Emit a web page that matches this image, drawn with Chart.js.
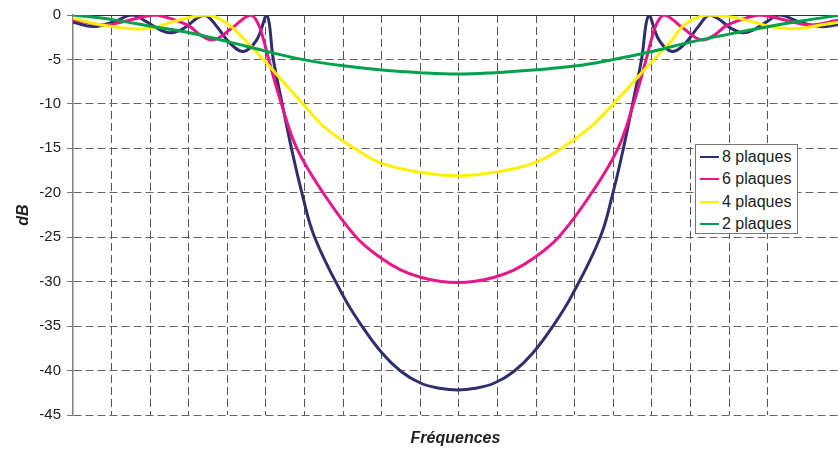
<!DOCTYPE html>
<html>
<head>
<meta charset="utf-8">
<script src="https://cdn.jsdelivr.net/npm/chart.js@4/dist/chart.umd.min.js"></script>
<style>
  body { margin: 0; background: #fff; }
  #wrap { position: relative; width: 838px; height: 454px; }
  #chartLegend {
    position: absolute; left: 695px; top: 144px; width: 103px; height: 90px;
    box-sizing: border-box; padding-top: 1px;
    border: 1px solid #777; background: #fff;
    font: 16px "Liberation Sans", Arial, sans-serif; color: #222;
  }
  .item { display: flex; align-items: center; height: 22.3px; white-space: nowrap; }
  .swatch { width: 19px; height: 2px; margin: 0 3px 0 4px; }
</style>
</head>
<body>
<div id="wrap">
  <canvas id="chart" width="838" height="454"></canvas>
  <div id="chartLegend"></div>
</div>
<script>
// x is in grid units (one dashed vertical line per unit), y in dB
const labels = ['8 plaques', '6 plaques', '4 plaques', '2 plaques'];
const colors = ['#2f2f6b', '#e8168b', '#fff000', '#00a14b'];
const yTicks = [0, -5, -10, -15, -20, -25, -30, -35, -40, -45];

const x8 = [0, 0.53, 1.07, 1.54, 1.9, 2.27, 2.53, 2.87, 3.21, 3.43, 3.73, 4.07, 4.42, 4.76, 5.02,
  5.19, 5.42, 5.66, 5.93, 6.26, 7.0, 7.47, 8.0, 8.5, 9.0, 9.5, 9.96,
  10.42, 10.92, 11.42, 11.92, 12.45, 12.92, 13.66, 13.99, 14.26, 14.5, 14.73,
  14.92, 15.18, 15.52, 15.86, 16.2, 16.47, 16.7, 17.05, 17.35, 17.62, 17.98, 18.3, 18.8, 19.35, 19.82];
const db8 = [-0.8, -1.3, -0.75, 0, -0.75, -1.69, -2.0, -1.5, -0.37, 0, -1.31, -3.19, -4.1, -2.8, 0,
  -5, -10, -15, -20, -25, -31.6, -34.9, -38.0, -40.1, -41.4, -42.0, -42.2,
  -42.0, -41.4, -40.1, -38.0, -34.9, -31.6, -25, -20, -15, -10, -5,
  0, -2.8, -4.1, -3.19, -1.31, 0, -0.37, -1.5, -2.0, -1.69, -0.75, 0, -0.75, -1.3, -1.1];

const x6 = [0, 0.81, 1.41, 1.84, 2.18, 2.96, 3.3, 3.64, 4.11, 4.6, 4.8, 4.95, 5.07, 5.4, 5.8,
  6.48, 7.34, 8.0, 8.5, 9.0, 9.5, 9.96, 10.42, 10.92, 11.42, 11.92, 12.58, 13.44,
  14.12, 14.52, 14.85, 14.97, 15.12, 15.32, 15.81, 16.28, 16.62, 16.96, 17.74, 18.08,
  18.51, 19.11, 19.82];
const db6 = [-0.5, -1.12, -0.64, -0.19, 0, -1.12, -2.25, -2.8, -1.5, 0, -1.0, -3.0, -5, -10, -15,
  -20, -25, -27.4, -28.7, -29.5, -29.95, -30.1, -29.95, -29.5, -28.7, -27.4, -25, -20,
  -15, -10, -5, -3.0, -1.0, 0, -1.5, -2.8, -2.25, -1.12, 0, -0.19,
  -0.64, -1.12, -0.6];

const x4 = [0, 0.7, 1.56, 2.08, 2.68, 3.47, 3.99, 4.33, 4.5, 4.93, 5.96, 6.5, 7.29, 8.0,
  9.0, 9.96, 10.92, 11.92, 12.66, 13.42, 14.0, 15.05, 15.5, 15.84,
  16.42, 17.22, 18.07, 18.6, 18.94, 19.82];
const db4 = [-0.35, -1.1, -1.55, -1.45, -0.65, 0, -0.94, -2.25, -3.0, -5, -10, -12.56, -15, -16.7,
  -17.7, -18.1, -17.7, -16.7, -15, -12.56, -10, -5, -2.96, -1.09,
  0, -0.35, -1.3, -1.55, -1.45, -0.8];

const x2 = [0, 1.02, 2.02, 3.02, 4.01, 5.02, 6.0, 7.0, 8.0, 9.0, 9.96, 10.92, 11.92, 13.0,
  14.0, 15.0, 16.0, 17.0, 17.9, 18.9, 19.82];
const db2 = [0, -0.52, -1.28, -2.0, -3.0, -4.1, -5.05, -5.72, -6.19, -6.49, -6.64, -6.49, -6.19, -5.75,
  -5.0, -4.1, -3.05, -2.15, -1.4, -0.65, -0.05];

const xMax = 19.82;
const seriesX = [x8, x6, x4, x2];
const seriesY = [db8, db6, db4, db2];

const datasets = labels.map((label, i) => ({
  label,
  data: seriesX[i].map((x, k) => ({ x, y: seriesY[i][k] })),
  borderColor: colors[i],
  borderWidth: 3,
  pointRadius: 0,
  fill: false,
  tension: 0.4,
  order: 4 - i
}));

const titleFont = { family: '"Liberation Sans", Arial, sans-serif', size: 16, weight: 'bold', style: 'italic' };

new Chart(document.getElementById('chart').getContext('2d'), {
  type: 'line',
  data: { datasets },
  options: {
    responsive: false,
    animation: false,
    layout: { padding: { top: 15, right: 0, bottom: 0, left: 0 } },
    plugins: { legend: { display: false }, tooltip: { enabled: false } },
    scales: {
      x: {
        type: 'linear', min: 0, max: xMax,
        ticks: { display: false, stepSize: 1 },
        afterBuildTicks: s => { s.ticks = s.ticks.filter(t => Number.isInteger(t.value) && t.value > 0); },
        grid: { color: '#555', lineWidth: 1, drawTicks: false },
        border: { display: false, dash: [8, 4] },
        title: { display: true, text: 'Fréquences', color: '#222', font: titleFont, padding: { top: 0, bottom: 6 } },
        afterFit: s => { s.height = 39; }
      },
      xTop: {
        type: 'linear', position: 'top', min: 0, max: xMax,
        ticks: { display: false },
        grid: { display: false, drawTicks: false },
        border: { display: true, color: '#333', width: 1 },
        afterFit: s => { s.height = 0; }
      },
      y: {
        min: -45, max: 0,
        afterBuildTicks: s => { s.ticks = yTicks.map(v => ({ value: v })); },
        ticks: { padding: 6, color: '#222', font: { family: '"Liberation Sans", Arial, sans-serif', size: 15 } },
        grid: { color: '#666', lineWidth: 1, tickLength: 6, tickColor: '#777' },
        border: { color: '#808080', width: 1.5, dash: [8, 4] },
        title: { display: true, text: 'dB', color: '#222', font: titleFont, padding: { top: 14, bottom: 0 } },
        afterFit: s => { s.width = 73; }
      }
    }
  }
});

const legendEl = document.getElementById('chartLegend');
legendEl.innerHTML = labels.map((label, i) => `
  <div class="item"><div class="swatch" style="background:${colors[i]}"></div><span>${label}</span></div>`).join('');
</script>
</body>
</html>
